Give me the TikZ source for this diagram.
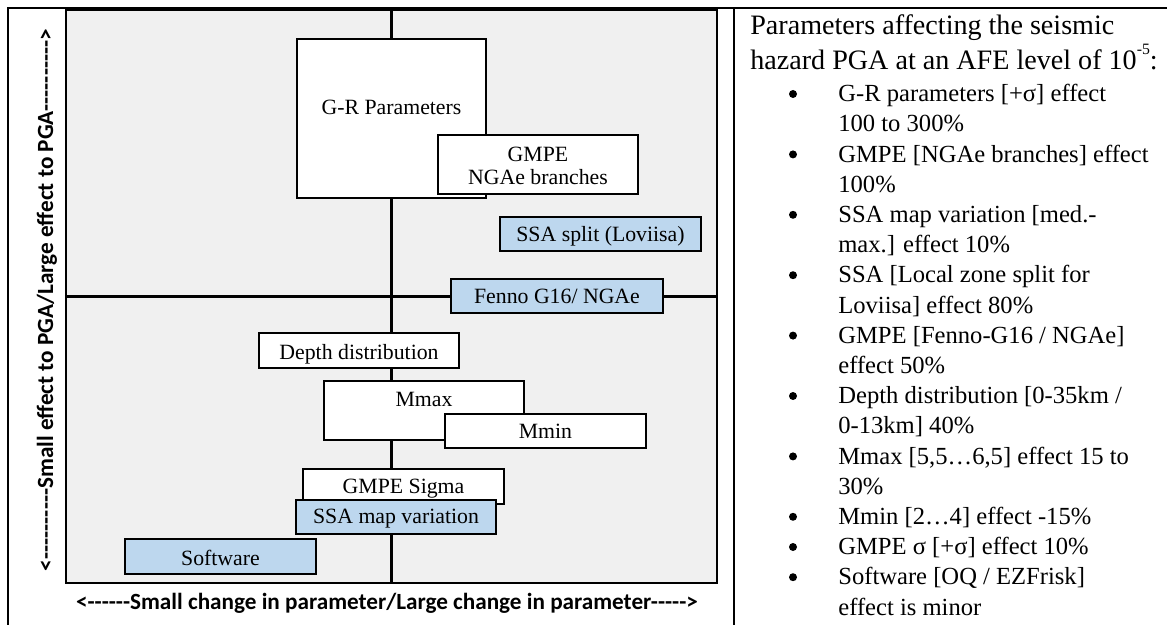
\documentclass[tikz,border=0pt]{standalone}
\usepackage{fontspec}
\setmainfont{Liberation Serif}
\newfontfamily\axisfont[Ligatures=TeXOff]{Carlito}
\usetikzlibrary{calc, positioning}
\definecolor{ssablue}{HTML}{BDD7EE}
\definecolor{fieldgrey}{HTML}{F0F0F0}
\newcommand{\pxlen}{0.02cm}
% box plus its own text node
% [style]{name}{left}{top}{right}{bottom}{text baseline (last line)}{text}, all in px
\newcommand{\ParBox}[8][]{%
\node[pbox, #1, minimum width={(#5-#3)*\pxlen}, minimum height={(#6-#4)*\pxlen}] (#2) at ({(#3+#5)/2},{(#4+#6)/2}) {};
\node[boxtext] (#2-txt) at ({(#3+#5)/2},#7) {#8};
}
\tikzset{
  tableline/.style={line width=0.9pt},
  field/.style={draw, line width=1.3pt, fill=fieldgrey, inner sep=0pt},
  axisline/.style={line width=1.3pt},
  pbox/.style={draw, line width=1.3pt, fill=white, inner sep=0pt},
  boxtext/.style={anchor=base, inner sep=0pt, align=center, font=\fontsize{12.4}{12.9}\selectfont},
  axislabel/.style={anchor=base, inner sep=0pt, font=\axisfont\bfseries\fontsize{13.2}{15}\selectfont},
  headline/.style={anchor=base west, inner sep=0pt, font=\fontsize{16}{19.9}\selectfont},
  listline/.style={anchor=base west, inner sep=0pt, font=\fontsize{14}{17.2}\selectfont},
  bulletmark/.style={circle, fill=black, inner sep=0pt, minimum size={8*\pxlen}},
}

\begin{document}
\begin{tikzpicture}[x=\pxlen, y=-\pxlen]
    \useasboundingbox (0,0) rectangle (1167,625);

    % table frame
    \coordinate (tab-nw) at (8,8);
    \coordinate (tab-ne) at (1167,8);
    \coordinate (tab-sw) at (8,625);
    \coordinate (div-n) at (734,8);
    \coordinate (div-s) at (734,625);
    \draw [tableline] (tab-sw) -- (tab-nw) -- (tab-ne);
    \draw [tableline] (div-n) -- (div-s);

    % quadrant field and axes
    \node [field, minimum width={651*\pxlen}, minimum height={573*\pxlen}] (field) at (391.5,296.5) {};
    \draw [axisline] (field.north) -- (field.south);
    \draw [axisline] (field.west) -- (field.east);

    % parameter boxes, back to front
    \ParBox{grp}{297}{39}{486}{198}{114.3}{G-R Parameters}
    \ParBox{gmpe}{438}{135}{638}{194}{184.3}{GMPE\\NGAe branches}
    \ParBox[fill=ssablue]{ssasplit}{500}{217}{701}{251}{241.5}{SSA split (Loviisa)}
    \ParBox[fill=ssablue]{fenno}{451}{279}{663}{313}{303.3}{Fenno G16/ NGAe}
    \ParBox{depth}{259}{333}{459}{368}{359.3}{Depth distribution}
    \ParBox{mmax}{324}{381}{524}{440}{406.7}{Mmax}
    \ParBox{mmin}{445}{414}{646}{448}{438.3}{Mmin}
    \ParBox{gsigma}{303}{469}{504}{504}{493.3}{GMPE Sigma}
    \ParBox[fill=ssablue]{ssamap}{296}{500}{496}{534}{523.3}{SSA map variation}
    \ParBox[fill=ssablue]{software}{125}{539}{316}{574}{565}{Software}

    % axis labels
    \node [axislabel] (xlabel) at (387,609) {<------Small change in parameter/Large change in parameter----->};
    \node [axislabel, rotate=90] (ylabel) at (53,300) {<----------Small effect to PGA/Large effect to PGA---------->};

    % right column
    \node [headline] (head1) at (750,35) {Parameters affecting the seismic};
    \node [headline] (head2) at (750,70) {hazard PGA at an AFE level of 10\raisebox{0.55em}{\fontsize{9}{9}\selectfont -5}:};
    \foreach \txt [count=\n from 0] in {
        {G-R parameters [+σ] effect}, {100 to 300\%},
        {GMPE [NGAe branches] effect}, {100\%},
        {SSA map variation [med.-}, {max.] effect 10\%},
        {SSA [Local zone split for}, {Loviisa] effect 80\%},
        {GMPE [Fenno-G16 / NGAe]}, {effect 50\%},
        {Depth distribution [0-35km /}, {0-13km] 40\%},
        {Mmax [5,5…6,5] effect 15 to}, {30\%},
        {Mmin [2…4] effect -15\%},
        {GMPE σ [+σ] effect 10\%},
        {Software [OQ / EZFrisk]}, {effect is minor}}{
        \node [listline] (line\n) at (838,{101.7+30.2*\n}) {\txt};
    }
    \foreach \k [count=\i] in {0,2,4,6,8,10,12,14,15,16}{
        \node [bulletmark] (bullet\i) at (793,{94+30.2*\k}) {};
    }
\end{tikzpicture}
\end{document}
